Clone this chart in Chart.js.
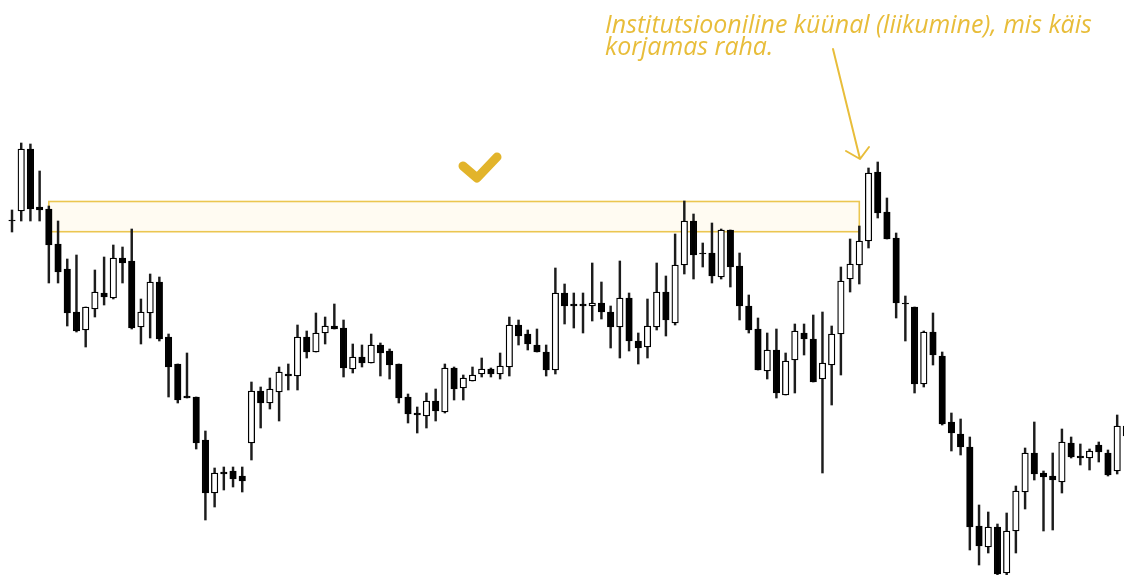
<!DOCTYPE html>
<html>
<head>
<meta charset="utf-8">
<script src="https://cdn.jsdelivr.net/npm/chart.js@4.4.1/dist/chart.umd.min.js"></script>
<style>
    html, body { margin: 0; padding: 0; background: #ffffff; }
    #wrap { width: 1124px; height: 575px; }
</style>
</head>
<body>
<div id="wrap"><canvas id="priceChart" width="1124" height="575"></canvas></div>
<script>
// Hinnatasemed on loetud pildilt (telg on tagurpidi: väiksem arv = kõrgem hind)
const opens = [
    220, 211, 149, 207, 209, 244, 269, 312, 330, 309, 293, 298, 258, 261, 327, 313, 282, 337, 364, 396,
    397, 440, 493, 472, 471, 476, 443, 391, 403, 392, 374, 376, 337, 352, 333, 326, 328, 369, 357, 363,
    345, 351, 364, 397, 413, 416, 401, 412, 368, 388, 381, 374, 369, 374, 367, 325, 334, 345, 352, 370,
    293, 304, 304, 306, 303, 312, 327, 298, 341, 347, 327, 292, 323, 265, 221, 253, 253, 277, 230, 266,
    306, 329, 371, 350, 395, 360, 333, 339, 379, 365, 334, 279, 265, 241, 172, 212, 238, 303, 307, 384,
    332, 356, 422, 434, 447, 526, 547, 527, 573, 531, 492, 453, 473, 476, 482, 443, 456, 458, 445, 453,
    471, 426
];
const highs = [
    210, 143, 144, 171, 206, 221, 259, 255, 307, 270, 257, 245, 247, 229, 299, 274, 277, 334, 364, 353,
    397, 431, 468, 467, 467, 467, 382, 387, 378, 367, 364, 325, 331, 313, 317, 304, 320, 344, 345, 334,
    343, 349, 364, 394, 407, 393, 389, 364, 367, 375, 367, 358, 368, 353, 317, 320, 330, 329, 345, 268,
    284, 293, 293, 263, 282, 306, 261, 293, 333, 299, 263, 276, 234, 201, 214, 243, 223, 229, 230, 253,
    295, 318, 333, 329, 353, 324, 324, 315, 312, 326, 267, 239, 226, 168, 162, 198, 233, 296, 307, 331,
    313, 352, 413, 419, 437, 505, 512, 524, 513, 486, 448, 422, 471, 453, 429, 437, 444, 449, 442, 450,
    415, 420
];
const lows = [
    232, 221, 221, 221, 283, 283, 326, 332, 347, 317, 305, 299, 283, 329, 344, 338, 341, 397, 403, 398,
    449, 520, 507, 490, 487, 492, 460, 428, 409, 421, 390, 390, 358, 352, 344, 329, 377, 373, 367, 363,
    376, 379, 403, 423, 433, 428, 421, 413, 400, 400, 381, 377, 377, 379, 376, 345, 350, 352, 376, 374,
    324, 328, 333, 321, 319, 348, 358, 351, 364, 358, 330, 336, 325, 274, 279, 267, 283, 279, 287, 320,
    333, 370, 379, 398, 395, 393, 355, 382, 473, 405, 375, 292, 284, 248, 218, 239, 318, 341, 393, 387,
    365, 425, 451, 455, 550, 565, 553, 578, 575, 553, 509, 480, 531, 530, 493, 458, 465, 470, 462, 476,
    474, 440
];
const closes = [
    221, 149, 209, 210, 245, 272, 313, 331, 307, 292, 297, 258, 263, 328, 312, 282, 339, 367, 400, 398,
    443, 493, 473, 474, 479, 481, 391, 403, 389, 372, 376, 337, 352, 333, 326, 329, 368, 357, 363, 345,
    353, 365, 398, 414, 415, 401, 411, 368, 389, 378, 375, 369, 374, 366, 325, 336, 344, 352, 370, 293,
    306, 306, 306, 303, 312, 327, 298, 341, 348, 326, 292, 320, 265, 221, 255, 254, 276, 230, 267, 306,
    330, 370, 350, 393, 361, 331, 339, 382, 363, 334, 281, 264, 241, 173, 213, 239, 303, 304, 384, 332,
    355, 424, 433, 447, 527, 546, 527, 574, 531, 491, 453, 474, 477, 480, 442, 457, 458, 451, 452, 475,
    426, 436
];

// Tsoon (küünla indeksid ja hinnatasemed)
const zoneFrom = 4;
const zoneTo = 92;
const zoneTop = 201.5;
const zoneBottom = 231.7;

const noteLines = ['Institutsiooniline küünal (liikumine), mis käis', 'korjamas raha.'];

const gold = '#e8bd3a';

// Küünla kehad ja tahid
const wickData = highs.map((h, i) => ({ x: i, y: [h, lows[i]] }));
const bodyData = opens.map((o, i) => ({ x: i, y: [o, closes[i]] }));
const bodyColors = opens.map((o, i) => closes[i] < o ? '#ffffff' : '#000000');

// Joonised: tsoon, linnuke, tekst ja nool
const annotate = {
    id: 'annotate',
    beforeDatasetsDraw(chart) {
        const ctx = chart.ctx;
        const xs = chart.scales.x;
        const ys = chart.scales.y;
        const x1 = xs.getPixelForValue(zoneFrom);
        const x2 = xs.getPixelForValue(zoneTo);
        const y1 = ys.getPixelForValue(zoneTop);
        const y2 = ys.getPixelForValue(zoneBottom);
        ctx.save();
        ctx.fillStyle = '#fffbf2';
        ctx.fillRect(x1, y1, x2 - x1, y2 - y1);
        ctx.strokeStyle = '#ebc650';
        ctx.lineWidth = 1.6;
        ctx.strokeRect(x1, y1, x2 - x1, y2 - y1);
        ctx.restore();
    },
    afterDraw(chart) {
        const ctx = chart.ctx;
        ctx.save();

        // linnuke
        ctx.strokeStyle = '#e2b42b';
        ctx.lineWidth = 9;
        ctx.lineCap = 'round';
        ctx.lineJoin = 'round';
        ctx.beginPath();
        ctx.moveTo(463, 166);
        ctx.lineTo(477, 178);
        ctx.lineTo(497, 157);
        ctx.stroke();

        // tekst
        let size = 20;
        ctx.font = `italic ${size}px "Open Sans"`;
        const w = ctx.measureText(noteLines[0]).width;
        size = size * 487 / w;
        ctx.font = `italic ${size}px "Open Sans"`;
        ctx.fillStyle = gold;
        ctx.textBaseline = 'alphabetic';
        ctx.fillText(noteLines[0], 605, 33);
        ctx.fillText(noteLines[1], 605, 55);

        // nool
        ctx.strokeStyle = gold;
        ctx.lineWidth = 2;
        ctx.lineCap = 'round';
        ctx.beginPath();
        ctx.moveTo(833, 49);
        ctx.lineTo(860, 159);
        ctx.moveTo(846, 151);
        ctx.lineTo(860, 159);
        ctx.lineTo(869, 147);
        ctx.stroke();

        ctx.restore();
    }
};

const priceChart = new Chart(
    document.getElementById('priceChart'),
    {
        type: 'bar',
        data: {
            datasets: [
                {
                    data: bodyData,
                    backgroundColor: bodyColors,
                    borderColor: '#000000',
                    borderWidth: 1.3,
                    borderSkipped: false,
                    barThickness: 6.5,
                    grouped: false,
                    order: 0
                },
                {
                    data: wickData,
                    backgroundColor: '#1c1c1c',
                    borderWidth: 0,
                    barThickness: 1.8,
                    grouped: false,
                    order: 1
                }
            ]
        },
        options: {
            responsive: false,
            animation: false,
            devicePixelRatio: 1,
            layout: { padding: 0 },
            plugins: {
                legend: { display: false },
                tooltip: { enabled: false }
            },
            scales: {
                x: {
                    type: 'linear',
                    display: false,
                    offset: false,
                    min: -1.303,
                    max: 120.74
                },
                y: {
                    display: false,
                    reverse: true,
                    min: 0,
                    max: 575
                }
            }
        },
        plugins: [annotate]
    }
);
</script>
</body>
</html>
